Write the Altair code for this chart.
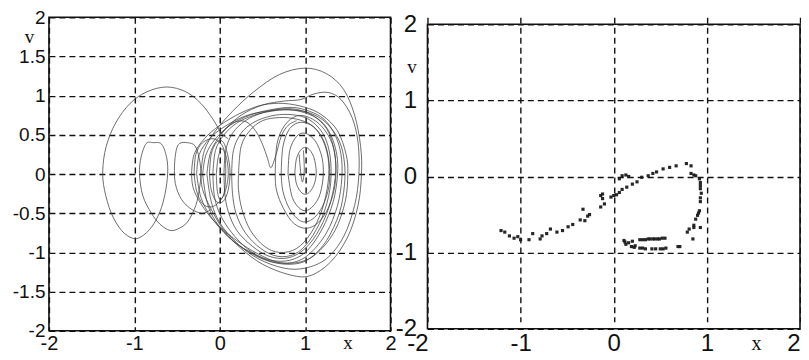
import altair as alt
import pandas as pd

# ---------------- data ----------------
# Left panel: phase trajectory (x, v), traced as polylines
transient = [(-0.10,-0.45),(-0.20,-0.50),(-0.33,-0.45),(-0.45,-0.32),(-0.52,-0.12),(-0.53,0.10),(-0.51,0.30),(-0.47,0.39),
             (-0.38,0.40),(-0.29,0.36),(-0.24,0.20),(-0.22,0.00),(-0.24,-0.20),(-0.28,-0.40),(-0.37,-0.60),(-0.47,-0.69),
             (-0.58,-0.72),(-0.70,-0.64),(-0.80,-0.50),(-0.90,-0.28),(-0.94,0.00),(-0.92,0.22),(-0.86,0.39),(-0.78,0.40),
             (-0.68,0.38),(-0.62,0.20),(-0.61,0.00),(-0.64,-0.25),(-0.70,-0.48),(-0.80,-0.68),(-0.92,-0.80),(-1.02,-0.82),
             (-1.15,-0.72),(-1.27,-0.50),(-1.35,-0.20),(-1.37,0.05),(-1.33,0.35),(-1.22,0.65),(-1.05,0.90),(-0.85,1.05),
             (-0.62,1.11),(-0.40,1.05),(-0.22,0.90),(-0.08,0.70),(0.02,0.52),(0.10,0.45)]
loop_b1 = [(-0.22,0.0),(-0.18,0.3),(-0.05,0.55),(0.15,0.8),(0.4,1.05),(0.7,1.27),(1.0,1.35),(1.25,1.28),(1.45,1.08),
           (1.58,0.75),(1.65,0.35),(1.66,0.0),(1.62,-0.4),(1.5,-0.8),(1.3,-1.12),(1.05,-1.3),(0.8,-1.28),(0.5,-1.15),
           (0.25,-0.95),(0.05,-0.72),(-0.1,-0.45),(-0.2,-0.2),(-0.22,0.0)]
loop_b2 = [(-0.15,0.0),(-0.1,0.3),(0.05,0.55),(0.25,0.75),(0.5,0.88),(0.75,0.93),(0.95,0.95),(1.1,1.02),(1.27,1.04),
           (1.42,0.95),(1.55,0.72),(1.62,0.4),(1.63,0.0),(1.58,-0.4),(1.45,-0.8),(1.25,-1.08),(1.0,-1.2),(0.75,-1.2),
           (0.45,-1.08),(0.2,-0.88),(0.0,-0.62),(-0.1,-0.35),(-0.15,0.0)]
loop_b3 = [(-0.33,0.0),(-0.3,0.25),(-0.18,0.45),(0.0,0.62),(0.25,0.78),(0.5,0.88),(0.75,0.9),(1.0,0.85),(1.2,0.75),
           (1.38,0.55),(1.48,0.25),(1.5,0.0),(1.47,-0.35),(1.35,-0.72),(1.15,-1.0),(0.95,-1.12),(0.7,-1.13),(0.45,-1.02),
           (0.2,-0.85),(-0.05,-0.62),(-0.22,-0.38),(-0.31,-0.18),(-0.33,0.0)]
loop_b4 = [(-0.27,0.0),(-0.24,0.25),(-0.12,0.45),(0.05,0.6),(0.3,0.74),(0.55,0.8),(0.8,0.82),(1.05,0.78),(1.25,0.65),
           (1.4,0.42),(1.46,0.15),(1.46,-0.15),(1.4,-0.5),(1.25,-0.85),(1.05,-1.08),(0.85,-1.15),(0.6,-1.12),(0.35,-1.0),
           (0.1,-0.8),(-0.1,-0.55),(-0.22,-0.3),(-0.27,0.0)]
loop_b5 = [(-0.2,0.0),(-0.16,0.25),(-0.05,0.45),(0.12,0.62),(0.35,0.75),(0.6,0.82),(0.85,0.85),(1.05,0.8),(1.22,0.7),
           (1.35,0.5),(1.42,0.25),(1.43,-0.05),(1.38,-0.4),(1.25,-0.75),(1.05,-1.02),(0.85,-1.13),(0.62,-1.12),(0.4,-1.02),
           (0.15,-0.85),(-0.05,-0.6),(-0.15,-0.35),(-0.2,0.0)]
loop_b6 = [(-0.08,0.0),(-0.05,0.3),(0.05,0.5),(0.2,0.65),(0.4,0.75),(0.6,0.8),(0.8,0.82),(1.0,0.78),(1.18,0.68),
           (1.3,0.5),(1.37,0.25),(1.38,0.0),(1.33,-0.35),(1.2,-0.7),(1.02,-0.98),(0.82,-1.1),(0.6,-1.1),(0.38,-1.0),
           (0.18,-0.8),(0.02,-0.55),(-0.06,-0.3),(-0.08,0.0)]
loop_b7 = [(0.05,0.0),(0.07,0.3),(0.15,0.52),(0.3,0.68),(0.5,0.78),(0.72,0.83),(0.92,0.82),(1.1,0.74),(1.25,0.58),
           (1.33,0.35),(1.36,0.05),(1.3,-0.35),(1.17,-0.7),(1.0,-0.95),(0.8,-1.07),(0.58,-1.05),(0.38,-0.92),(0.2,-0.72),
           (0.1,-0.48),(0.06,-0.25),(0.05,0.0)]
loop_b8 = [(0.14,0.0),(0.16,0.3),(0.25,0.52),(0.4,0.66),(0.6,0.74),(0.8,0.76),(1.0,0.72),(1.15,0.6),(1.25,0.42),
           (1.3,0.15),(1.29,-0.2),(1.2,-0.55),(1.05,-0.85),(0.88,-1.02),(0.68,-1.05),(0.48,-0.95),(0.3,-0.75),(0.19,-0.5),
           (0.15,-0.25),(0.14,0.0)]
loop_b9 = [(0.22,0.0),(0.25,0.35),(0.35,0.55),(0.5,0.68),(0.7,0.72),(0.9,0.7),(1.08,0.62),(1.2,0.45),(1.27,0.2),
           (1.27,-0.1),(1.2,-0.45),(1.07,-0.75),(0.9,-0.95),(0.7,-1.0),(0.52,-0.92),(0.36,-0.72),(0.26,-0.45),(0.22,-0.2),
           (0.22,0.0)]
loop_r0 = [(0.93,0.25),(0.95,0.0),(0.97,-0.1),(0.99,0.05),(0.98,0.3)]
loop_r1 = [(0.88,0.02),(0.9,0.2),(0.96,0.32),(1.03,0.33),(1.1,0.22),(1.13,0.02),(1.1,-0.15),(1.03,-0.25),(0.96,-0.24),
           (0.9,-0.13),(0.88,0.02)]
loop_r2 = [(0.8,0.0),(0.82,0.3),(0.9,0.48),(1.0,0.52),(1.12,0.42),(1.2,0.2),(1.21,-0.05),(1.16,-0.3),(1.05,-0.45),
           (0.95,-0.45),(0.85,-0.3),(0.8,0.0)]
loop_r3 = [(0.72,0.0),(0.74,0.35),(0.82,0.58),(0.95,0.66),(1.1,0.6),(1.22,0.42),(1.28,0.15),(1.28,-0.15),(1.2,-0.42),
           (1.08,-0.58),(0.95,-0.6),(0.82,-0.45),(0.74,-0.22),(0.72,0.0)]
loop_r4 = [(0.65,0.0),(0.67,0.38),(0.76,0.62),(0.9,0.74),(1.05,0.72),(1.2,0.6),(1.32,0.38),(1.36,0.1),(1.34,-0.2),
           (1.25,-0.48),(1.12,-0.65),(0.98,-0.69),(0.84,-0.6),(0.72,-0.38),(0.66,-0.18),(0.65,0.0)]
loop_s1 = [(-0.3,0.0),(-0.28,0.25),(-0.2,0.4),(-0.08,0.45),(0.02,0.38),(0.08,0.2),(0.1,0.0),(0.07,-0.2),(0.0,-0.35),
           (-0.1,-0.42),(-0.2,-0.38),(-0.27,-0.22),(-0.3,0.0)]
loop_s2 = [(-0.12,0.0),(-0.1,0.25),(-0.04,0.4),(0.03,0.42),(0.08,0.3),(0.12,0.05),(0.1,-0.2),(0.04,-0.35),(-0.04,-0.35),
           (-0.1,-0.2),(-0.12,0.0)]
loop_s3 = [(-0.04,0.0),(-0.02,0.2),(0.02,0.32),(0.06,0.25),(0.07,0.0),(0.05,-0.25),(0.0,-0.32),(-0.03,-0.2),(-0.04,0.0)]
dip = [(0.0,0.5),(0.15,0.65),(0.3,0.67),(0.42,0.55),(0.5,0.38),(0.56,0.2),(0.6,0.08),(0.66,0.25),(0.72,0.48),(0.8,0.62),
       (0.9,0.68)]

# Right panel: Poincare section points (x, v)
poincare_x = [-1.21,-1.17,-1.12,-1.07,-1.03,-1.0,-0.91,-0.87,-0.79,-0.77,-0.72,-0.68,-0.61,-0.55,-0.49,-0.44,-0.36,-0.33,
              -0.31,-0.28,-0.26,-0.14,-0.14,-0.10,-0.12,-0.12,
              -0.03,0.0,0.03,0.06,0.09,0.14,0.2,0.25,0.06,0.09,0.13,0.16,0.3,0.37,0.42,0.46,0.53,0.6,0.67,0.78,0.83,
              0.83,0.86,0.88,0.92,0.93,0.93,0.93,0.94,0.93,0.93,0.92,0.91,0.90,0.88,0.86,0.86,0.81,0.79,0.85,0.93,
              0.11,0.12,0.13,0.16,0.2,0.23,0.28,0.31,0.34,0.37,0.39,0.42,0.44,0.47,0.49,0.52,0.55,
              0.19,0.22,0.28,0.31,0.34,0.41,0.45,0.5,0.53,0.56,0.69,0.71]
poincare_v = [-0.71,-0.73,-0.78,-0.81,-0.79,-0.83,-0.83,-0.75,-0.82,-0.78,-0.75,-0.69,-0.73,-0.71,-0.66,-0.63,-0.57,-0.43,
              -0.58,-0.52,-0.50,-0.25,-0.40,-0.36,-0.29,-0.23,
              -0.27,-0.25,-0.24,-0.21,-0.17,-0.14,-0.10,-0.07,-0.03,0.01,0.02,0.0,-0.01,0.01,0.04,0.06,0.10,0.12,0.14,0.17,0.14,
              0.04,0.02,0.01,-0.03,-0.08,-0.12,-0.16,-0.22,-0.28,-0.33,-0.45,-0.48,-0.51,-0.56,-0.64,-0.67,-0.69,-0.73,-0.82,-0.67,
              -0.84,-0.86,-0.89,-0.87,-0.85,-0.91,-0.83,-0.83,-0.83,-0.82,-0.82,-0.82,-0.82,-0.82,-0.82,-0.81,-0.81,
              -0.92,-0.93,-0.94,-0.94,-0.95,-0.95,-0.95,-0.95,-0.95,-0.94,-0.92,-0.92]

left_x_ticks = [-2, -1, 0, 1, 2]
left_v_ticks = [-2, -1.5, -1, -0.5, 0, 0.5, 1, 1.5, 2]
right_x_ticks = [-2, -1, 0, 1, 2]
right_v_ticks = [-2, -1, 0, 1, 2]
frame_bounds = [-2, 2]

# ---------------- build tables ----------------
curves = {"transient": transient, "b1": loop_b1, "b2": loop_b2, "b3": loop_b3, "b4": loop_b4, "b5": loop_b5,
          "b6": loop_b6, "b7": loop_b7, "b8": loop_b8, "b9": loop_b9, "r0": loop_r0, "r1": loop_r1, "r2": loop_r2,
          "r3": loop_r3, "r4": loop_r4, "s1": loop_s1, "s2": loop_s2, "s3": loop_s3, "dip": dip}
rows = []
for name, pts in curves.items():
    for i, (xx, vv) in enumerate(pts):
        rows.append({"seg": name, "idx": i, "x": xx, "v": vv})
df_left = pd.DataFrame(rows)
df_right = pd.DataFrame({"x": poincare_x, "v": poincare_v})
df_frame = pd.DataFrame({"x": [frame_bounds[0]], "x1": [frame_bounds[1]], "v": [frame_bounds[0]], "v1": [frame_bounds[1]]})

INK = "#111111"
SANS = "Liberation Sans"
SERIF = "Liberation Serif"
label_expr = "'' + datum.value"


def axis(values, font_size, pad, title, tx, ty, title_size, **extra):
    return alt.Axis(values=values, grid=True, gridDash=[6, 4], gridColor=INK, gridWidth=1.4,
                    domain=False, ticks=False, tickSize=0,
                    labelFont=SANS, labelFontSize=font_size, labelColor=INK, labelPadding=pad,
                    labelFlush=False, labelOverlap=False, labelExpr=label_expr,
                    title=title, titleFont=SERIF, titleFontSize=title_size, titleFontWeight="normal",
                    titleColor=INK, titleAngle=0, titleX=tx, titleY=ty, titleAlign="center",
                    titleBaseline="middle", **extra)


# ---------------- left panel ----------------
lx = alt.Scale(domain=[-2, 2], nice=False, zero=False)
ly = alt.Scale(domain=[-2, 2], nice=False, zero=False)
left_X = alt.X("x:Q", scale=lx, axis=axis(left_x_ticks, 20, 3, "x", 299, 12, 19))
left_Y = alt.Y("v:Q", scale=ly, axis=axis(left_v_ticks, 19, 4, "v", -20, 19, 19))
left_lines = alt.Chart(df_left).mark_line(interpolate="cardinal", strokeWidth=0.85, color="#404040", opacity=0.9).encode(
    x=left_X, y=left_Y, detail="seg:N", order="idx:Q",
)
left_frame = alt.Chart(df_frame).mark_rect(fill="transparent", stroke=INK, strokeWidth=1.6).encode(
    x=left_X, x2="x1:Q", y=left_Y, y2="v1:Q")
left = alt.layer(left_lines, left_frame).properties(width=342, height=314)

# ---------------- right panel ----------------
rx = alt.Scale(domain=[-2, 2], nice=False, zero=False)
ry = alt.Scale(domain=[-2, 2], nice=False, zero=False, range=[312, 7])
right_X = alt.X("x:Q", scale=rx, axis=axis(right_x_ticks, 24, 3, "x", 329, 15, 20,
                                           labelAlign={"condition": {"test": "datum.value == 2", "value": "right"}, "value": "center"},
                                           labelOffset={"condition": {"test": "datum.value == -2", "value": -10}, "value": 0}))
right_Y = alt.Y("v:Q", scale=ry, axis=axis(right_v_ticks, 24, 11, "v", -16, 49, 19))
right_pts = alt.Chart(df_right).mark_square(size=10, color="#1a1a1a", opacity=0.95).encode(x=right_X, y=right_Y)
right_frame = alt.Chart(df_frame).mark_rect(fill="transparent", stroke=INK, strokeWidth=1.6).encode(
    x=right_X, x2="x1:Q", y=right_Y, y2="v1:Q")
right = alt.layer(right_pts, right_frame).properties(width=373, height=312)

chart = alt.hconcat(left, right, spacing=37, bounds="flush").properties(
    padding={"left": 4, "top": 0, "right": 0, "bottom": 0},
    background="white",
).configure_view(strokeWidth=0)

chart.save("out.html", embed_options={"renderer": "svg", "actions": False})
